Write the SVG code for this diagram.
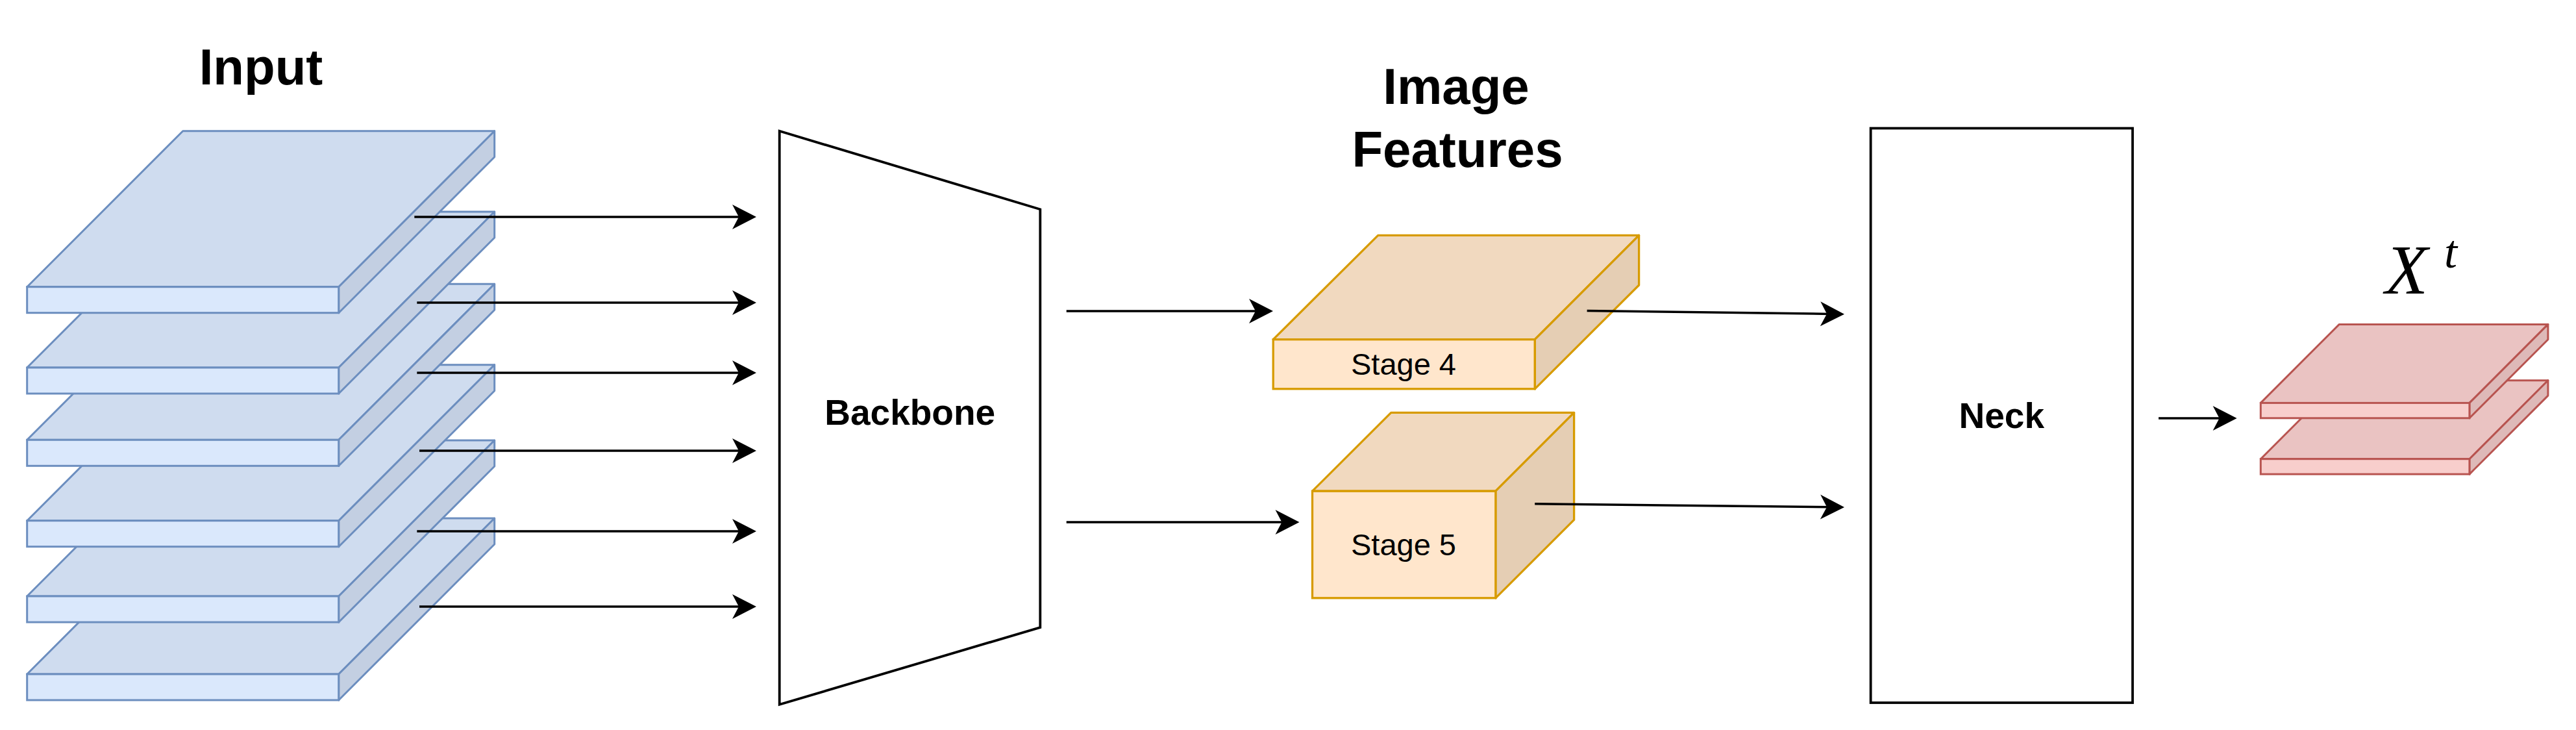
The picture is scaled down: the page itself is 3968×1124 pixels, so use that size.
<svg xmlns="http://www.w3.org/2000/svg" xmlns:xlink="http://www.w3.org/1999/xlink" width="3968" height="1124" viewBox="0 0 3968 1124">
<style>
.title{font-family:"Liberation Sans",Arial,Helvetica,sans-serif;font-weight:bold;font-size:78px;fill:#000;text-anchor:middle}
.blk{font-family:"Liberation Sans",Arial,Helvetica,sans-serif;font-weight:bold;font-size:55px;fill:#000;text-anchor:middle}
.stage{font-family:"Liberation Sans",Arial,Helvetica,sans-serif;font-size:47px;fill:#000;text-anchor:middle}
.math{font-family:"Liberation Serif","Times New Roman",serif;font-style:italic;fill:#000}
.box{fill:#fff;stroke:#000;stroke-width:3.8}
.conn{stroke:#000;stroke-width:3.5;fill:none;marker-end:url(#arrow)}
.bF{fill:#dae8fc;stroke:#6c8ebf;stroke-width:3}
.bT{fill:#cfdcef;stroke:#6c8ebf;stroke-width:3;stroke-linejoin:round}
.bS{fill:#c3cfe2;stroke:#6c8ebf;stroke-width:3;stroke-linejoin:round}
.oF{fill:#ffe6cc;stroke:#d79b00;stroke-width:3.3}
.oT{fill:#f1d9bf;stroke:#d79b00;stroke-width:3.3;stroke-linejoin:round}
.oS{fill:#e5ceb4;stroke:#d79b00;stroke-width:3.3;stroke-linejoin:round}
.rF{fill:#f8cecc;stroke:#b85450;stroke-width:3}
.rT{fill:#eac3c2;stroke:#b85450;stroke-width:3;stroke-linejoin:round}
.rS{fill:#deb9b8;stroke:#b85450;stroke-width:3;stroke-linejoin:round}
</style>
<defs>
<marker id="arrow" viewBox="-18 -20 40 40" markerWidth="40" markerHeight="40" refX="0" refY="0" orient="auto" markerUnits="userSpaceOnUse">
<path d="M20,0 L-17,-19 L-7,0 L-17,19 Z" fill="#000"/>
</marker>
<g id="slabBlue">
<path class="bT" d="M0,0 L240,-240 L720,-240 L480,0 Z"/>
<path class="bS" d="M480,0 L720,-240 L720,-200 L480,40 Z"/>
<rect class="bF" x="0" y="0" width="480" height="40"/>
</g>
<g id="slabRed">
<path class="rT" d="M0,0 L121,-121 L442.6,-121 L321.6,0 Z"/>
<path class="rS" d="M321.6,0 L442.6,-121 L442.6,-97.6 L321.6,23.4 Z"/>
<rect class="rF" x="0" y="0" width="321.6" height="23.4"/>
</g>
</defs>
<rect width="3968" height="1124" fill="#fff"/>

<g id="input">
<text class="title" x="402" y="130">Input</text>
<g id="input-slab-6"><use xlink:href="#slabBlue" transform="translate(41.7,1038)"/></g>
<g id="input-slab-5"><use xlink:href="#slabBlue" transform="translate(41.7,918)"/></g>
<g id="input-slab-4"><use xlink:href="#slabBlue" transform="translate(41.7,801.7)"/></g>
<g id="input-slab-3"><use xlink:href="#slabBlue" transform="translate(41.7,677.3)"/></g>
<g id="input-slab-2"><use xlink:href="#slabBlue" transform="translate(41.7,566)"/></g>
<g id="input-slab-1"><use xlink:href="#slabBlue" transform="translate(41.7,441.7)"/></g>
</g>

<g id="backbone">
<path class="box" d="M1200.7,201.8 L1602.3,322.3 L1602.3,966 L1200.7,1084.8 Z"/>
<text class="blk" x="1401.7" y="654">Backbone</text>
</g>

<g id="image-features-title">
<text class="title" x="2243" y="160">Image</text>
<text class="title" x="2245" y="256.7">Features</text>
</g>

<g id="stage4">
<path class="oT" d="M1961.2,522.7 L2122.7,362.3 L2524.6,362.3 L2364.2,522.7 Z"/>
<path class="oS" d="M2364.2,522.7 L2524.6,362.3 L2524.6,439 L2364.2,598.8 Z"/>
<rect class="oF" x="1961.2" y="522.7" width="403" height="76.1"/>
<text class="stage" x="2162" y="577">Stage 4</text>
</g>

<g id="stage5">
<path class="oT" d="M2021.5,756.2 L2142.7,635.4 L2424.6,635.4 L2303.8,756.2 Z"/>
<path class="oS" d="M2303.8,756.2 L2424.6,635.4 L2424.6,800.4 L2303.8,920.8 Z"/>
<rect class="oF" x="2021.5" y="756.2" width="282.3" height="164.6"/>
<text class="stage" x="2162" y="854.5">Stage 5</text>
</g>

<g id="neck">
<rect class="box" x="2881.6" y="197.5" width="403.4" height="884.5"/>
<text class="blk" x="3083.3" y="659">Neck</text>
</g>

<g id="xt">
<g id="xt-slab-2"><use xlink:href="#slabRed" transform="translate(3482.3,706.7)"/></g>
<g id="xt-slab-1"><use xlink:href="#slabRed" transform="translate(3482.3,620.4)"/></g>
<text class="math" x="3674" y="452" font-size="108">X</text>
<text class="math" x="3765" y="412" font-size="72">t</text>
</g>

<g id="connectors">
<line class="conn" x1="638.3" y1="334" x2="1145" y2="334"/>
<line class="conn" x1="642.3" y1="466" x2="1145" y2="466"/>
<line class="conn" x1="642.3" y1="574" x2="1145" y2="574"/>
<line class="conn" x1="646" y1="694" x2="1145" y2="694"/>
<line class="conn" x1="642.3" y1="818" x2="1145" y2="818"/>
<line class="conn" x1="646" y1="934" x2="1145" y2="934"/>
<line class="conn" x1="1642.7" y1="479" x2="1941" y2="479"/>
<line class="conn" x1="1642.7" y1="804" x2="1981.5" y2="804"/>
<line class="conn" x1="2444.6" y1="478.5" x2="2821" y2="483.44"/>
<line class="conn" x1="2364.2" y1="775.8" x2="2821" y2="780.8"/>
<line class="conn" x1="3325" y1="644" x2="3425.6" y2="644"/>
</g>
</svg>
